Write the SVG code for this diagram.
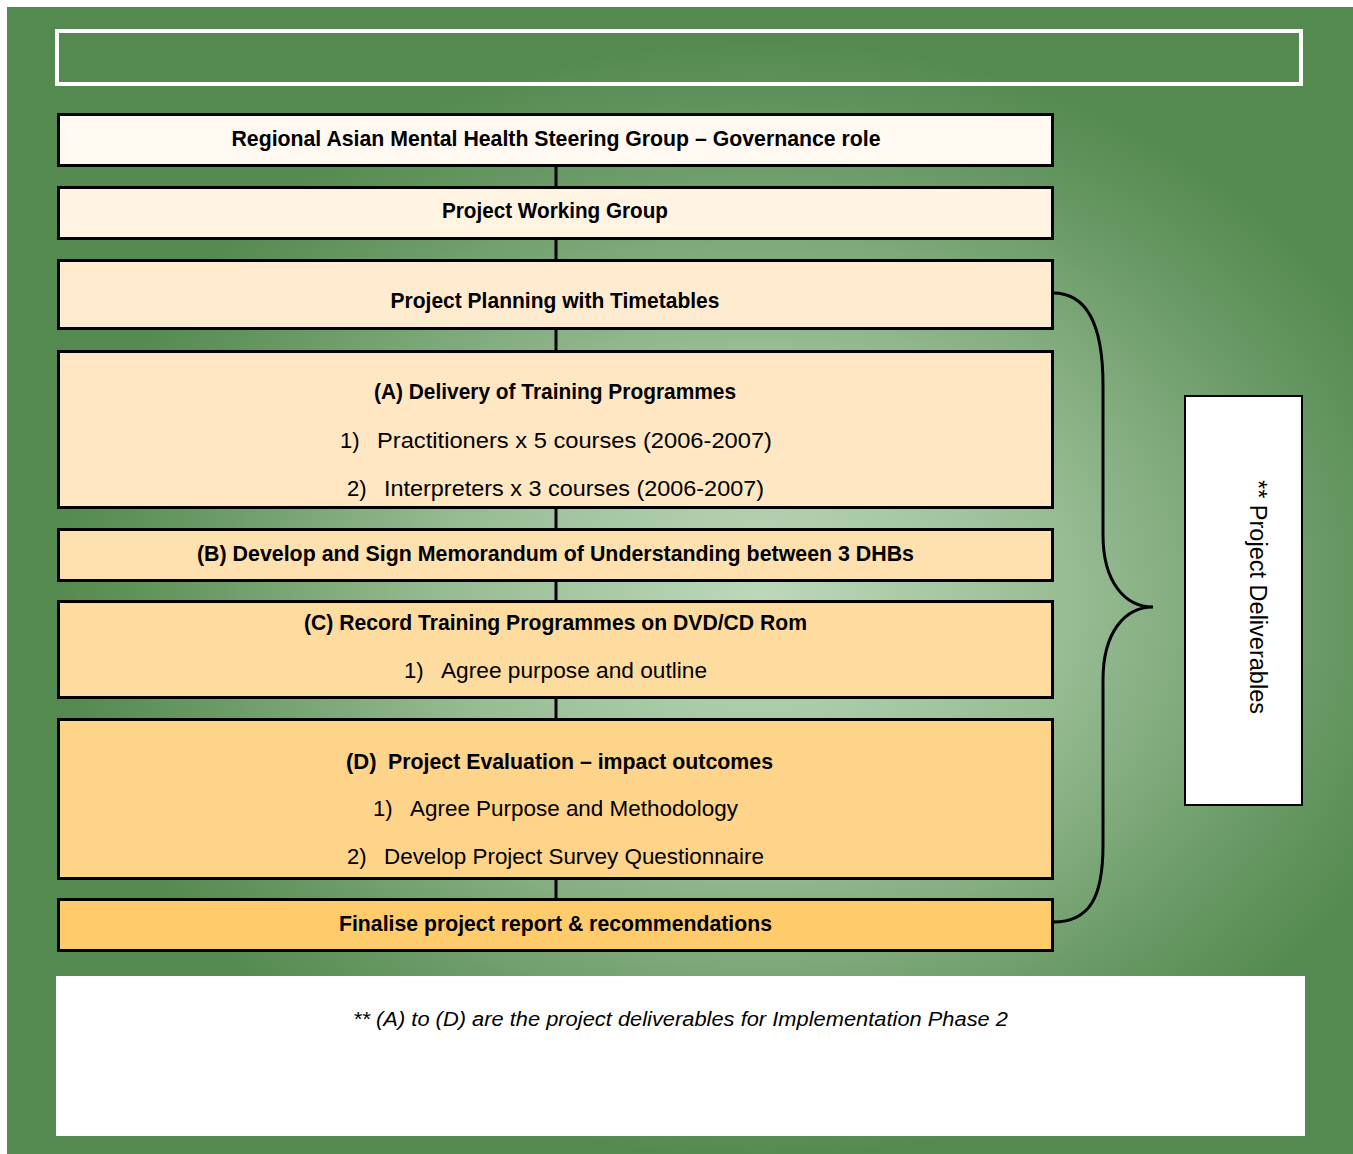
<svg xmlns="http://www.w3.org/2000/svg" width="1353" height="1154" viewBox="0 0 1353 1154">
<style>
.box{stroke:#000;stroke-width:3}
.t{font-family:"Liberation Sans",Arial,sans-serif;font-size:22px;fill:#000}
.b{font-weight:bold}
.c{text-anchor:middle}
.conn{stroke:#000;stroke-width:3;fill:none}
</style>
<defs>
<radialGradient id="bg" gradientUnits="userSpaceOnUse" cx="0" cy="0" r="1" gradientTransform="translate(760,600) scale(700,560)">
<stop offset="0" stop-color="#bcd9ba"/>
<stop offset="0.45" stop-color="#97bb93"/>
<stop offset="0.8" stop-color="#6a9a66"/>
<stop offset="1" stop-color="#548a50"/>
</radialGradient>
</defs>
<rect x="0" y="0" width="1353" height="1154" fill="#fff"/>
<rect x="7" y="7" width="1346" height="1147" fill="#548a50"/>
<rect x="7" y="7" width="1346" height="1147" fill="url(#bg)"/>
<rect id="title-frame" x="57" y="31" width="1244" height="53" fill="none" stroke="#fff" stroke-width="4"/>

<g id="connectors">
<line class="conn" x1="556" y1="167" x2="556" y2="186"/>
<line class="conn" x1="556" y1="240" x2="556" y2="259"/>
<line class="conn" x1="556" y1="330" x2="556" y2="350"/>
<line class="conn" x1="556" y1="509" x2="556" y2="528"/>
<line class="conn" x1="556" y1="582" x2="556" y2="600"/>
<line class="conn" x1="556" y1="699" x2="556" y2="718"/>
<line class="conn" x1="556" y1="880" x2="556" y2="898"/>
<path class="conn" d="M1053,293 C1090,293 1103,330 1103,385 L1103,535 C1103,582 1125,607 1153,607 C1125,607 1103,632 1103,680 L1103,845 C1103,897 1090,922 1053,922"/>
</g>

<g id="n1">
<rect class="box" x="58.5" y="114.5" width="994" height="51" fill="#fff9f1"/>
<text class="t b c" x="556" y="146" textLength="649" lengthAdjust="spacingAndGlyphs">Regional Asian Mental Health Steering Group – Governance role</text>
</g>
<g id="n2">
<rect class="box" x="58.5" y="187.5" width="994" height="51" fill="#fff3e1"/>
<text class="t b c" x="555" y="218" textLength="226" lengthAdjust="spacingAndGlyphs">Project Working Group</text>
</g>
<g id="n3">
<rect class="box" x="58.5" y="260.5" width="994" height="68" fill="#ffecd0"/>
<text class="t b c" x="555" y="308" textLength="329" lengthAdjust="spacingAndGlyphs">Project Planning with Timetables</text>
</g>
<g id="n4">
<rect class="box" x="58.5" y="351.5" width="994" height="156" fill="#fee7c2"/>
<text class="t b c" x="555" y="399" textLength="362" lengthAdjust="spacingAndGlyphs">(A) Delivery of Training Programmes</text>
<text class="t" x="340" y="448">1)</text>
<text class="t" x="377" y="448" textLength="395" lengthAdjust="spacingAndGlyphs">Practitioners x 5 courses  (2006-2007)</text>
<text class="t" x="347" y="496">2)</text>
<text class="t" x="384" y="496" textLength="380" lengthAdjust="spacingAndGlyphs">Interpreters x 3 courses (2006-2007)</text>
</g>
<g id="n5">
<rect class="box" x="58.5" y="529.5" width="994" height="51" fill="#fee1ae"/>
<text class="t b c" x="555.5" y="561" textLength="717" lengthAdjust="spacingAndGlyphs">(B) Develop and Sign Memorandum of Understanding between 3 DHBs</text>
</g>
<g id="n6">
<rect class="box" x="58.5" y="601.5" width="994" height="96" fill="#fedb9e"/>
<text class="t b c" x="555.5" y="630" textLength="503" lengthAdjust="spacingAndGlyphs">(C) Record Training Programmes on DVD/CD Rom</text>
<text class="t" x="404" y="678">1)</text>
<text class="t" x="441" y="678" textLength="266" lengthAdjust="spacingAndGlyphs">Agree purpose and outline</text>
</g>
<g id="n7">
<rect class="box" x="58.5" y="719.5" width="994" height="159" fill="#fed38a"/>
<text class="t b" x="346" y="769">(D)</text>
<text class="t b" x="388" y="769" textLength="385" lengthAdjust="spacingAndGlyphs">Project Evaluation – impact outcomes</text>
<text class="t" x="373" y="816">1)</text>
<text class="t" x="410" y="816" textLength="328" lengthAdjust="spacingAndGlyphs">Agree Purpose and Methodology</text>
<text class="t" x="347" y="864">2)</text>
<text class="t" x="384" y="864" textLength="380" lengthAdjust="spacingAndGlyphs">Develop Project Survey Questionnaire</text>
</g>
<g id="n8">
<rect class="box" x="58.5" y="899.5" width="994" height="51" fill="#ffcb6b"/>
<text class="t b c" x="555.5" y="931" textLength="433" lengthAdjust="spacingAndGlyphs">Finalise project report &amp; recommendations</text>
</g>

<g id="deliverables">
<rect x="1185" y="396" width="117" height="409" fill="#fff" stroke="#000" stroke-width="2"/>
<text class="t c" transform="translate(1250,597) rotate(90)" style="font-size:23px" textLength="234" lengthAdjust="spacingAndGlyphs">** Project  Deliverables</text>
</g>

<g id="footnote">
<rect x="56" y="976" width="1249" height="160" fill="#fff"/>
<text class="t c" x="680.5" y="1026" style="font-style:italic;font-size:20px" textLength="655" lengthAdjust="spacingAndGlyphs">** (A) to (D) are the project deliverables for Implementation Phase 2</text>
</g>
</svg>
